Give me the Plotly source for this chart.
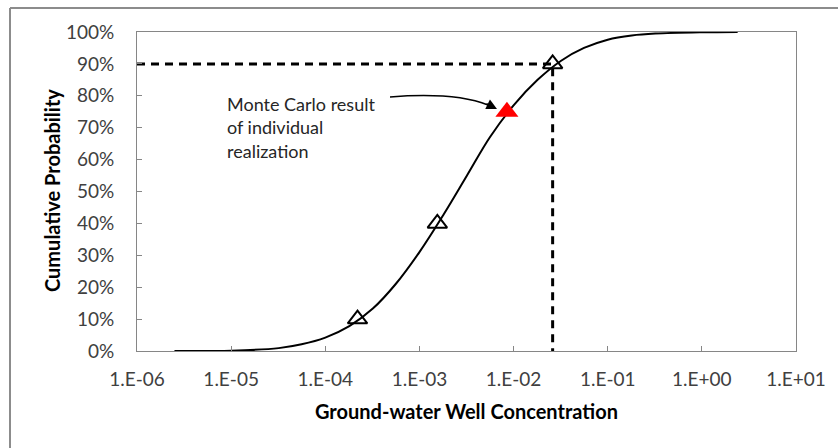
import plotly.graph_objects as go

# cumulative probability curve
conc = [2.5e-6, 1.0e-5, 3.2e-5, 5.6e-5, 1.0e-4, 1.8e-4, 3.2e-4, 5.6e-4, 1.0e-3, 1.8e-3,
        3.2e-3, 5.6e-3, 1.0e-2, 1.8e-2, 3.2e-2, 5.6e-2, 1.0e-1, 1.8e-1, 3.2e-1, 1.0, 2.4]
cum_prob = [0.0, 0.001, 0.009, 0.021, 0.042, 0.078, 0.133, 0.21, 0.31, 0.427,
            0.55, 0.67, 0.77, 0.85, 0.91, 0.95, 0.976, 0.989, 0.995, 0.999, 1.0]

# percentile markers (open triangles)
pct_conc = [2.2e-4, 1.55e-3, 2.6e-2]
pct_prob = [0.10, 0.40, 0.90]

# single Monte Carlo realization (red triangle)
mc_conc = [8.5e-3]
mc_prob = [0.75]

x_ticks = [1e-6, 1e-5, 1e-4, 1e-3, 1e-2, 1e-1, 1e0, 1e1]
x_labels = ["1.E-06", "1.E-05", "1.E-04", "1.E-03", "1.E-02", "1.E-01", "1.E+00", "1.E+01"]

W, H = 838, 448
L, R, T, B = 137, 796, 32, 351


def px(x):
    return (x - L) / (R - L)


def py(y):
    return (B - y) / (B - T)


FONT = "Lato, 'Open Sans', sans-serif"

fig = go.Figure()

# 90th percentile guide lines
fig.add_trace(go.Scatter(x=[1e-6, pct_conc[2], pct_conc[2]], y=[pct_prob[2], pct_prob[2], 0],
                         mode="lines", line=dict(color="black", width=3, dash="8px,6px"),
                         hoverinfo="skip", showlegend=False))

fig.add_trace(go.Scatter(x=conc, y=cum_prob, mode="lines", line=dict(color="black", width=2, shape="spline"),
                         showlegend=False))

fig.add_trace(go.Scatter(x=pct_conc, y=pct_prob, mode="markers",
                         marker=dict(symbol="triangle-up-open", size=17, color="black", line=dict(width=2)),
                         showlegend=False))

fig.add_trace(go.Scatter(x=mc_conc, y=mc_prob, mode="markers",
                         marker=dict(symbol="triangle-up", size=20, color="red"),
                         showlegend=False))

fig.update_xaxes(type="log", range=[-6, 1], tickvals=x_ticks, ticktext=x_labels,
                 showgrid=False, showline=True, linecolor="#868686", linewidth=1, mirror=True,
                 ticks="inside", ticklen=5, tickcolor="#868686", ticklabelstandoff=11,
                 tickfont=dict(family=FONT, size=19, color="#404040"))
fig.update_yaxes(range=[0, 1], dtick=0.1, tickformat=".0%",
                 showgrid=False, showline=True, linecolor="#868686", linewidth=1, mirror=True,
                 ticks="inside", ticklen=5, tickcolor="#868686", ticklabelstandoff=18,
                 tickfont=dict(family=FONT, size=19, color="#404040"))

annotations = [
    dict(text="<b>Ground-water Well Concentration</b>", x=px(466), y=py(411), xref="paper", yref="paper",
         xanchor="center", yanchor="middle",
         showarrow=False, font=dict(family=FONT, size=20, color="black")),
    dict(text="<b>Cumulative Probability</b>", x=px(52), y=py(191), xref="paper", yref="paper",
         xanchor="center", yanchor="middle",
         textangle=-90, showarrow=False, font=dict(family=FONT, size=20, color="black")),
    dict(text="Monte Carlo result<br>of individual<br>realization", x=px(225), y=py(127),
         xref="paper", yref="paper", xanchor="left", yanchor="middle", align="left",
         showarrow=False, font=dict(family=FONT, size=18, color="#262626")),
    # arrowhead at the end of the curved pointer
    dict(text="", x=px(497), y=py(109), xref="paper", yref="paper", ax=-12, ay=-6,
         showarrow=True, arrowhead=2, arrowsize=1.4, arrowwidth=1.5, arrowcolor="black"),
]

shapes = [
    # curved pointer line
    dict(type="path", xref="paper", yref="paper",
         path=f"M {px(390)},{py(97)} Q {px(455)},{py(92)} {px(488)},{py(105)}",
         line=dict(color="black", width=1.5)),
    # outer chart border (left and top edges visible)
    dict(type="line", xref="paper", yref="paper", x0=px(10), x1=px(10), y0=py(470), y1=py(8),
         line=dict(color="#8c8c8c", width=2)),
    dict(type="line", xref="paper", yref="paper", x0=px(10), x1=px(860), y0=py(8), y1=py(8),
         line=dict(color="#8c8c8c", width=2)),
]

fig.update_layout(width=W, height=H, margin=dict(l=L, r=W - R, t=T, b=H - B),
                  plot_bgcolor="white", paper_bgcolor="white",
                  annotations=annotations, shapes=shapes, showlegend=False)

fig.write_html("out.html", config={"displayModeBar": False},
               post_script="document.body.style.margin='0';")
